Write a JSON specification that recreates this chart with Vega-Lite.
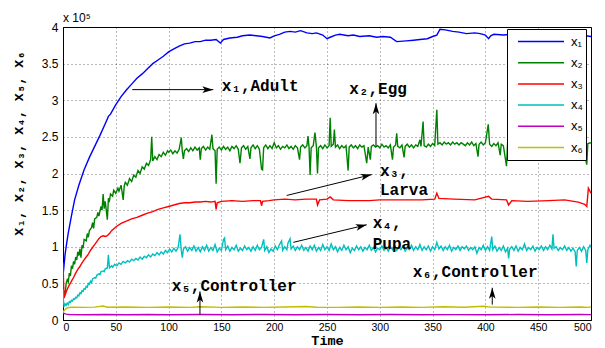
{
  "$schema": "https://vega.github.io/schema/vega-lite/v6.json",
  "width": 528,
  "height": 293,
  "autosize": {"type": "none"},
  "padding": {"left": 63, "top": 27, "right": 14, "bottom": 28},
  "background": "white",
  "title": {"text": "x 10⁵", "anchor": "start", "frame": "group", "font": "Liberation Sans", "fontSize": 12, "fontWeight": "normal", "offset": 4, "dy": 8, "color": "black"},
  "config": {
    "view": {"stroke": "black", "strokeWidth": 1},
    "axis": {"labelFont": "Liberation Sans", "labelFontSize": 12, "labelColor": "black", "domainColor": "black", "ticks": false, "labelOverlap": false, "gridColor": "#000", "gridOpacity": 0.55, "gridDash": [1, 3], "titleFont": "Liberation Mono", "titleFontWeight": "bold", "titleColor": "black"}
  },
  "datasets": {
    "series": [
      {"s":"x1","t":0,"v":0.6},{"s":"x1","t":1,"v":0.75},{"s":"x1","t":2,"v":0.9},{"s":"x1","t":3.5,"v":1.05},{"s":"x1","t":5,"v":1.19},{"s":"x1","t":8,"v":1.42},{"s":"x1","t":11,"v":1.64},{"s":"x1","t":15,"v":1.84},{"s":"x1","t":20,"v":2.05},{"s":"x1","t":25,"v":2.22},{"s":"x1","t":30,"v":2.37},{"s":"x1","t":35,"v":2.52},{"s":"x1","t":40,"v":2.68},{"s":"x1","t":43,"v":2.78},{"s":"x1","t":45,"v":2.81},{"s":"x1","t":50,"v":2.94},{"s":"x1","t":55,"v":3.05},{"s":"x1","t":60,"v":3.14},{"s":"x1","t":65,"v":3.22},{"s":"x1","t":70,"v":3.30},{"s":"x1","t":75,"v":3.36},{"s":"x1","t":80,"v":3.43},{"s":"x1","t":85,"v":3.50},{"s":"x1","t":90,"v":3.55},{"s":"x1","t":95,"v":3.60},{"s":"x1","t":100,"v":3.66},{"s":"x1","t":105,"v":3.70},{"s":"x1","t":110,"v":3.74},{"s":"x1","t":115,"v":3.77},{"s":"x1","t":120,"v":3.78},{"s":"x1","t":125,"v":3.80},{"s":"x1","t":130,"v":3.80},{"s":"x1","t":135,"v":3.82},{"s":"x1","t":140,"v":3.82},{"s":"x1","t":145,"v":3.83},{"s":"x1","t":149,"v":3.78},{"s":"x1","t":152,"v":3.83},{"s":"x1","t":158,"v":3.85},{"s":"x1","t":165,"v":3.86},{"s":"x1","t":170,"v":3.88},{"s":"x1","t":177,"v":3.89},{"s":"x1","t":183,"v":3.88},{"s":"x1","t":189,"v":3.87},{"s":"x1","t":196,"v":3.85},{"s":"x1","t":200,"v":3.88},{"s":"x1","t":205,"v":3.90},{"s":"x1","t":210,"v":3.93},{"s":"x1","t":215,"v":3.94},{"s":"x1","t":220,"v":3.93},{"s":"x1","t":225,"v":3.95},{"s":"x1","t":231,"v":3.92},{"s":"x1","t":236,"v":3.91},{"s":"x1","t":240,"v":3.92},{"s":"x1","t":246,"v":3.89},{"s":"x1","t":250,"v":3.84},{"s":"x1","t":253,"v":3.86},{"s":"x1","t":258,"v":3.89},{"s":"x1","t":262,"v":3.90},{"s":"x1","t":270,"v":3.88},{"s":"x1","t":275,"v":3.89},{"s":"x1","t":281,"v":3.87},{"s":"x1","t":290,"v":3.88},{"s":"x1","t":297,"v":3.86},{"s":"x1","t":303,"v":3.87},{"s":"x1","t":310,"v":3.86},{"s":"x1","t":316,"v":3.80},{"s":"x1","t":325,"v":3.81},{"s":"x1","t":332,"v":3.82},{"s":"x1","t":338,"v":3.83},{"s":"x1","t":345,"v":3.84},{"s":"x1","t":350,"v":3.87},{"s":"x1","t":354,"v":3.89},{"s":"x1","t":357,"v":3.97},{"s":"x1","t":362,"v":3.96},{"s":"x1","t":369,"v":3.94},{"s":"x1","t":375,"v":3.93},{"s":"x1","t":382,"v":3.91},{"s":"x1","t":390,"v":3.92},{"s":"x1","t":395,"v":3.91},{"s":"x1","t":400,"v":3.89},{"s":"x1","t":403,"v":3.84},{"s":"x1","t":405,"v":3.88},{"s":"x1","t":408,"v":3.90},{"s":"x1","t":417,"v":3.89},{"s":"x1","t":425,"v":3.90},{"s":"x1","t":440,"v":3.91},{"s":"x1","t":460,"v":3.90},{"s":"x1","t":480,"v":3.90},{"s":"x1","t":495,"v":3.88},{"s":"x1","t":500,"v":3.87},

      {"s":"x2","t":0,"v":0.28},{"s":"x2","t":1,"v":0.40},{"s":"x2","t":2,"v":0.36},{"s":"x2","t":3,"v":0.50},{"s":"x2","t":4,"v":0.55},{"s":"x2","t":5,"v":0.52},{"s":"x2","t":6,"v":0.64},{"s":"x2","t":7,"v":0.60},{"s":"x2","t":8,"v":0.74},{"s":"x2","t":9,"v":0.70},{"s":"x2","t":10,"v":0.80},{"s":"x2","t":11,"v":0.76},{"s":"x2","t":12,"v":0.86},{"s":"x2","t":13,"v":0.82},{"s":"x2","t":14,"v":0.93},{"s":"x2","t":15,"v":0.88},{"s":"x2","t":16,"v":0.97},{"s":"x2","t":17,"v":0.85},{"s":"x2","t":18,"v":1.02},{"s":"x2","t":19,"v":0.98},{"s":"x2","t":20,"v":1.10},{"s":"x2","t":22,"v":1.08},{"s":"x2","t":23,"v":1.18},{"s":"x2","t":24,"v":1.13},{"s":"x2","t":25,"v":1.22},{"s":"x2","t":27,"v":1.26},{"s":"x2","t":28,"v":1.33},{"s":"x2","t":29,"v":1.25},{"s":"x2","t":30,"v":1.38},{"s":"x2","t":32,"v":1.40},{"s":"x2","t":33,"v":1.47},{"s":"x2","t":34,"v":1.42},{"s":"x2","t":36,"v":1.55},{"s":"x2","t":37,"v":1.50},{"s":"x2","t":38,"v":1.72},{"s":"x2","t":39,"v":1.52},{"s":"x2","t":40,"v":1.62},{"s":"x2","t":42,"v":1.37},{"s":"x2","t":43,"v":1.66},{"s":"x2","t":44,"v":1.63},{"s":"x2","t":45,"v":1.72},{"s":"x2","t":47,"v":1.69},{"s":"x2","t":48,"v":1.77},{"s":"x2","t":50,"v":1.73},{"s":"x2","t":52,"v":1.80},{"s":"x2","t":53,"v":1.76},{"s":"x2","t":55,"v":1.84},{"s":"x2","t":57,"v":1.64},{"s":"x2","t":58,"v":1.83},{"s":"x2","t":59,"v":1.88},{"s":"x2","t":61,"v":1.84},{"s":"x2","t":63,"v":1.93},{"s":"x2","t":65,"v":1.89},{"s":"x2","t":67,"v":1.98},{"s":"x2","t":69,"v":1.95},{"s":"x2","t":71,"v":2.04},{"s":"x2","t":73,"v":2.00},{"s":"x2","t":75,"v":2.09},{"s":"x2","t":77,"v":2.06},{"s":"x2","t":79,"v":2.14},{"s":"x2","t":81,"v":2.11},{"s":"x2","t":83,"v":2.19},{"s":"x2","t":84,"v":2.50},{"s":"x2","t":85,"v":2.17},{"s":"x2","t":87,"v":2.23},{"s":"x2","t":89,"v":2.19},{"s":"x2","t":91,"v":2.26},{"s":"x2","t":93,"v":2.23},{"s":"x2","t":95,"v":2.29},{"s":"x2","t":97,"v":2.25},{"s":"x2","t":99,"v":2.31},
      {"s":"x2","t":100,"v":2.29},{"s":"x2","t":102,"v":2.32},{"s":"x2","t":104,"v":2.27},{"s":"x2","t":106,"v":2.31},{"s":"x2","t":108,"v":2.28},{"s":"x2","t":110,"v":2.33},{"s":"x2","t":112,"v":2.49},{"s":"x2","t":113,"v":2.30},{"s":"x2","t":114,"v":2.20},{"s":"x2","t":115,"v":2.31},{"s":"x2","t":117,"v":2.34},{"s":"x2","t":119,"v":2.30},{"s":"x2","t":121,"v":2.35},{"s":"x2","t":123,"v":2.31},{"s":"x2","t":125,"v":2.36},{"s":"x2","t":127,"v":2.32},{"s":"x2","t":129,"v":2.35},{"s":"x2","t":130,"v":2.19},{"s":"x2","t":131,"v":2.34},{"s":"x2","t":133,"v":2.37},{"s":"x2","t":135,"v":2.32},{"s":"x2","t":137,"v":2.36},{"s":"x2","t":139,"v":2.33},{"s":"x2","t":141,"v":2.53},{"s":"x2","t":142,"v":2.34},{"s":"x2","t":144,"v":2.31},{"s":"x2","t":145,"v":1.86},{"s":"x2","t":146,"v":2.33},{"s":"x2","t":148,"v":2.36},{"s":"x2","t":150,"v":2.32},{"s":"x2","t":152,"v":2.37},{"s":"x2","t":154,"v":2.33},{"s":"x2","t":156,"v":2.36},{"s":"x2","t":158,"v":2.31},{"s":"x2","t":160,"v":2.37},{"s":"x2","t":162,"v":2.34},{"s":"x2","t":164,"v":2.38},{"s":"x2","t":166,"v":2.33},{"s":"x2","t":167.6,"v":2.14},{"s":"x2","t":169,"v":2.35},{"s":"x2","t":171,"v":2.38},{"s":"x2","t":173,"v":2.33},{"s":"x2","t":175,"v":2.37},{"s":"x2","t":177,"v":2.20},{"s":"x2","t":178,"v":2.35},{"s":"x2","t":180,"v":2.39},{"s":"x2","t":182,"v":2.34},{"s":"x2","t":184,"v":2.38},{"s":"x2","t":186,"v":2.33},{"s":"x2","t":188,"v":2.06},{"s":"x2","t":189,"v":2.05},{"s":"x2","t":190,"v":2.35},{"s":"x2","t":192,"v":2.39},{"s":"x2","t":194,"v":2.34},{"s":"x2","t":196,"v":2.38},{"s":"x2","t":198,"v":2.34},{"s":"x2","t":200,"v":2.42},{"s":"x2","t":202,"v":2.35},{"s":"x2","t":204,"v":2.38},{"s":"x2","t":206,"v":2.33},{"s":"x2","t":208,"v":2.37},{"s":"x2","t":210,"v":2.35},{"s":"x2","t":212,"v":2.39},{"s":"x2","t":214,"v":2.34},{"s":"x2","t":216,"v":2.37},{"s":"x2","t":218,"v":2.33},{"s":"x2","t":220,"v":2.38},{"s":"x2","t":222,"v":2.35},{"s":"x2","t":224,"v":2.19},{"s":"x2","t":225,"v":2.36},{"s":"x2","t":227,"v":2.39},{"s":"x2","t":229,"v":2.35},{"s":"x2","t":231,"v":2.38},{"s":"x2","t":232,"v":2.51},{"s":"x2","t":233,"v":2.36},{"s":"x2","t":234,"v":1.98},{"s":"x2","t":235,"v":2.35},{"s":"x2","t":237,"v":2.38},{"s":"x2","t":238.6,"v":2.56},{"s":"x2","t":240,"v":2.36},{"s":"x2","t":241,"v":2.00},{"s":"x2","t":242,"v":2.35},{"s":"x2","t":244,"v":2.38},{"s":"x2","t":246,"v":2.34},{"s":"x2","t":248,"v":2.39},{"s":"x2","t":250,"v":2.35},{"s":"x2","t":252,"v":2.38},{"s":"x2","t":253,"v":2.76},{"s":"x2","t":254,"v":2.37},{"s":"x2","t":256,"v":2.40},{"s":"x2","t":257,"v":2.60},{"s":"x2","t":258,"v":2.36},{"s":"x2","t":260,"v":2.39},{"s":"x2","t":262,"v":2.34},{"s":"x2","t":264,"v":2.38},{"s":"x2","t":266,"v":2.35},{"s":"x2","t":268,"v":2.38},{"s":"x2","t":270,"v":2.04},{"s":"x2","t":271,"v":2.36},{"s":"x2","t":273,"v":2.39},{"s":"x2","t":275,"v":2.35},{"s":"x2","t":277,"v":2.38},{"s":"x2","t":279,"v":2.34},{"s":"x2","t":281,"v":2.39},{"s":"x2","t":283,"v":2.36},{"s":"x2","t":285,"v":2.38},{"s":"x2","t":287.6,"v":2.14},{"s":"x2","t":289,"v":2.36},{"s":"x2","t":291,"v":2.19},{"s":"x2","t":292,"v":2.37},{"s":"x2","t":294,"v":2.39},{"s":"x2","t":296,"v":2.36},{"s":"x2","t":298,"v":2.38},{"s":"x2","t":300,"v":2.35},{"s":"x2","t":302,"v":2.40},{"s":"x2","t":304,"v":2.36},{"s":"x2","t":306,"v":2.38},{"s":"x2","t":308,"v":2.35},{"s":"x2","t":310,"v":2.39},{"s":"x2","t":312,"v":2.19},{"s":"x2","t":313,"v":2.36},{"s":"x2","t":315,"v":2.39},{"s":"x2","t":316,"v":2.55},{"s":"x2","t":317,"v":2.37},{"s":"x2","t":319,"v":2.35},{"s":"x2","t":321,"v":2.39},{"s":"x2","t":323,"v":2.22},{"s":"x2","t":324,"v":2.37},{"s":"x2","t":326,"v":2.40},{"s":"x2","t":328,"v":2.36},{"s":"x2","t":330,"v":2.39},{"s":"x2","t":332,"v":2.35},{"s":"x2","t":334,"v":2.39},{"s":"x2","t":336,"v":2.37},{"s":"x2","t":338,"v":2.46},{"s":"x2","t":339,"v":2.37},{"s":"x2","t":341,"v":2.71},{"s":"x2","t":342,"v":2.38},{"s":"x2","t":344,"v":2.36},{"s":"x2","t":346,"v":2.40},{"s":"x2","t":348,"v":2.37},{"s":"x2","t":350,"v":2.41},{"s":"x2","t":352,"v":2.38},{"s":"x2","t":354,"v":2.87},{"s":"x2","t":355,"v":2.40},{"s":"x2","t":357,"v":2.42},{"s":"x2","t":359,"v":2.39},{"s":"x2","t":361,"v":2.43},{"s":"x2","t":363,"v":2.40},{"s":"x2","t":365,"v":2.42},{"s":"x2","t":367,"v":2.39},{"s":"x2","t":369,"v":2.43},{"s":"x2","t":371,"v":2.40},{"s":"x2","t":373,"v":2.42},{"s":"x2","t":375,"v":2.39},{"s":"x2","t":377,"v":2.42},{"s":"x2","t":379,"v":2.40},{"s":"x2","t":381,"v":2.38},{"s":"x2","t":383,"v":2.42},{"s":"x2","t":385,"v":2.39},{"s":"x2","t":387,"v":2.43},{"s":"x2","t":389,"v":2.38},{"s":"x2","t":391,"v":2.41},{"s":"x2","t":393,"v":2.23},{"s":"x2","t":394,"v":2.40},{"s":"x2","t":396,"v":2.43},{"s":"x2","t":398,"v":2.39},{"s":"x2","t":400,"v":2.42},{"s":"x2","t":402.7,"v":2.67},{"s":"x2","t":404,"v":2.40},{"s":"x2","t":406,"v":2.37},{"s":"x2","t":408,"v":2.41},{"s":"x2","t":410,"v":2.38},{"s":"x2","t":412,"v":2.42},{"s":"x2","t":414,"v":2.25},{"s":"x2","t":415,"v":2.40},{"s":"x2","t":417,"v":2.38},{"s":"x2","t":420,"v":2.10},{"s":"x2","t":421,"v":2.41},{"s":"x2","t":424,"v":2.38},{"s":"x2","t":428,"v":2.42},{"s":"x2","t":432,"v":2.39},{"s":"x2","t":436,"v":2.43},{"s":"x2","t":440,"v":2.40},{"s":"x2","t":444,"v":2.42},{"s":"x2","t":448,"v":2.39},{"s":"x2","t":452,"v":2.43},{"s":"x2","t":456,"v":2.40},{"s":"x2","t":460,"v":2.42},{"s":"x2","t":464,"v":2.39},{"s":"x2","t":468,"v":2.43},{"s":"x2","t":472,"v":2.40},{"s":"x2","t":476,"v":2.42},{"s":"x2","t":480,"v":2.39},{"s":"x2","t":484,"v":2.43},{"s":"x2","t":488,"v":2.40},{"s":"x2","t":492,"v":2.42},{"s":"x2","t":496,"v":2.12},{"s":"x2","t":497,"v":2.41},{"s":"x2","t":500,"v":2.42},

      {"s":"x3","t":0,"v":0.78},{"s":"x3","t":1,"v":0.30},{"s":"x3","t":2,"v":0.34},{"s":"x3","t":4,"v":0.42},{"s":"x3","t":6,"v":0.48},{"s":"x3","t":8,"v":0.53},{"s":"x3","t":10,"v":0.58},{"s":"x3","t":12,"v":0.64},{"s":"x3","t":14,"v":0.69},{"s":"x3","t":16,"v":0.73},{"s":"x3","t":18,"v":0.78},{"s":"x3","t":20,"v":0.82},{"s":"x3","t":22,"v":0.86},{"s":"x3","t":24,"v":0.90},{"s":"x3","t":26,"v":0.95},{"s":"x3","t":28,"v":0.99},{"s":"x3","t":30,"v":1.03},{"s":"x3","t":32,"v":1.07},{"s":"x3","t":34,"v":1.11},{"s":"x3","t":36,"v":1.14},{"s":"x3","t":38,"v":1.15},{"s":"x3","t":40,"v":1.14},{"s":"x3","t":42,"v":1.15},{"s":"x3","t":44,"v":1.18},{"s":"x3","t":46,"v":1.22},{"s":"x3","t":50,"v":1.27},{"s":"x3","t":55,"v":1.32},{"s":"x3","t":60,"v":1.35},{"s":"x3","t":65,"v":1.38},{"s":"x3","t":70,"v":1.40},{"s":"x3","t":75,"v":1.43},{"s":"x3","t":80,"v":1.46},{"s":"x3","t":85,"v":1.48},{"s":"x3","t":90,"v":1.51},{"s":"x3","t":95,"v":1.53},{"s":"x3","t":100,"v":1.55},{"s":"x3","t":105,"v":1.57},{"s":"x3","t":110,"v":1.59},{"s":"x3","t":115,"v":1.60},{"s":"x3","t":120,"v":1.60},{"s":"x3","t":125,"v":1.61},{"s":"x3","t":130,"v":1.61},{"s":"x3","t":135,"v":1.62},{"s":"x3","t":140,"v":1.61},{"s":"x3","t":144,"v":1.62},{"s":"x3","t":145,"v":1.51},{"s":"x3","t":146,"v":1.60},{"s":"x3","t":150,"v":1.62},{"s":"x3","t":160,"v":1.63},{"s":"x3","t":170,"v":1.62},{"s":"x3","t":180,"v":1.63},{"s":"x3","t":187,"v":1.63},{"s":"x3","t":188,"v":1.56},{"s":"x3","t":189,"v":1.62},{"s":"x3","t":195,"v":1.63},{"s":"x3","t":200,"v":1.64},{"s":"x3","t":210,"v":1.65},{"s":"x3","t":220,"v":1.64},{"s":"x3","t":230,"v":1.65},{"s":"x3","t":240,"v":1.65},{"s":"x3","t":241,"v":1.57},{"s":"x3","t":243,"v":1.64},{"s":"x3","t":250,"v":1.65},{"s":"x3","t":253,"v":1.68},{"s":"x3","t":256,"v":1.64},{"s":"x3","t":270,"v":1.63},{"s":"x3","t":280,"v":1.63},{"s":"x3","t":290,"v":1.63},{"s":"x3","t":300,"v":1.64},{"s":"x3","t":320,"v":1.64},{"s":"x3","t":340,"v":1.64},{"s":"x3","t":352,"v":1.65},{"s":"x3","t":354,"v":1.73},{"s":"x3","t":356,"v":1.66},{"s":"x3","t":370,"v":1.65},{"s":"x3","t":390,"v":1.64},{"s":"x3","t":403,"v":1.69},{"s":"x3","t":406,"v":1.65},{"s":"x3","t":420,"v":1.64},{"s":"x3","t":422,"v":1.57},{"s":"x3","t":425,"v":1.63},{"s":"x3","t":440,"v":1.62},{"s":"x3","t":460,"v":1.63},{"s":"x3","t":475,"v":1.64},{"s":"x3","t":488,"v":1.61},{"s":"x3","t":494,"v":1.58},{"s":"x3","t":496,"v":1.55},{"s":"x3","t":497.5,"v":1.80},{"s":"x3","t":500,"v":1.73},

      {"s":"x4","t":0,"v":0.42},{"s":"x4","t":0.5,"v":0.25},{"s":"x4","t":1,"v":0.19},{"s":"x4","t":2,"v":0.22},{"s":"x4","t":3,"v":0.20},{"s":"x4","t":4,"v":0.23},{"s":"x4","t":5,"v":0.21},{"s":"x4","t":6,"v":0.25},{"s":"x4","t":7,"v":0.24},{"s":"x4","t":8,"v":0.27},{"s":"x4","t":9,"v":0.26},{"s":"x4","t":10,"v":0.29},{"s":"x4","t":11,"v":0.28},{"s":"x4","t":12,"v":0.31},{"s":"x4","t":13,"v":0.30},{"s":"x4","t":14,"v":0.34},{"s":"x4","t":15,"v":0.33},{"s":"x4","t":16,"v":0.37},{"s":"x4","t":17,"v":0.36},{"s":"x4","t":18,"v":0.40},{"s":"x4","t":19,"v":0.39},{"s":"x4","t":20,"v":0.43},{"s":"x4","t":21,"v":0.42},{"s":"x4","t":22,"v":0.46},{"s":"x4","t":23,"v":0.45},{"s":"x4","t":24,"v":0.50},{"s":"x4","t":25,"v":0.49},{"s":"x4","t":26,"v":0.53},{"s":"x4","t":27,"v":0.51},{"s":"x4","t":28,"v":0.56},{"s":"x4","t":30,"v":0.58},{"s":"x4","t":31,"v":0.57},{"s":"x4","t":32,"v":0.61},{"s":"x4","t":34,"v":0.63},{"s":"x4","t":35,"v":0.62},{"s":"x4","t":36,"v":0.66},{"s":"x4","t":38,"v":0.67},{"s":"x4","t":39,"v":0.66},{"s":"x4","t":40,"v":0.70},{"s":"x4","t":42,"v":0.71},{"s":"x4","t":43,"v":0.89},{"s":"x4","t":44,"v":0.71},{"s":"x4","t":46,"v":0.74},{"s":"x4","t":47,"v":0.72},{"s":"x4","t":49,"v":0.76},{"s":"x4","t":51,"v":0.74},{"s":"x4","t":53,"v":0.78},{"s":"x4","t":55,"v":0.76},{"s":"x4","t":57,"v":0.80},{"s":"x4","t":59,"v":0.78},{"s":"x4","t":61,"v":0.81},{"s":"x4","t":63,"v":0.79},{"s":"x4","t":65,"v":0.83},{"s":"x4","t":67,"v":0.81},{"s":"x4","t":69,"v":0.84},{"s":"x4","t":71,"v":0.82},{"s":"x4","t":73,"v":0.86},{"s":"x4","t":75,"v":0.83},{"s":"x4","t":77,"v":0.87},{"s":"x4","t":79,"v":0.85},{"s":"x4","t":81,"v":0.89},{"s":"x4","t":83,"v":0.86},{"s":"x4","t":85,"v":0.90},{"s":"x4","t":87,"v":0.88},{"s":"x4","t":89,"v":0.92},{"s":"x4","t":91,"v":0.89},{"s":"x4","t":93,"v":0.93},{"s":"x4","t":95,"v":0.90},{"s":"x4","t":97,"v":0.95},{"s":"x4","t":99,"v":0.92},{"s":"x4","t":101,"v":0.97},{"s":"x4","t":103,"v":0.93},{"s":"x4","t":105,"v":0.98},{"s":"x4","t":107,"v":0.94},{"s":"x4","t":109,"v":0.99},{"s":"x4","t":110.8,"v":1.17},{"s":"x4","t":112,"v":0.95},{"s":"x4","t":113,"v":0.85},{"s":"x4","t":114,"v":0.97},{"s":"x4","t":116,"v":1.00},{"s":"x4","t":118,"v":0.94},{"s":"x4","t":120,"v":0.99},{"s":"x4","t":122,"v":0.95},{"s":"x4","t":124,"v":1.01},{"s":"x4","t":126,"v":0.94},{"s":"x4","t":128,"v":0.99},{"s":"x4","t":130,"v":0.93},{"s":"x4","t":132,"v":1.00},{"s":"x4","t":134,"v":0.95},{"s":"x4","t":136,"v":1.02},{"s":"x4","t":138,"v":0.94},{"s":"x4","t":140,"v":0.99},{"s":"x4","t":142,"v":0.95},{"s":"x4","t":144,"v":1.03},{"s":"x4","t":146,"v":0.93},{"s":"x4","t":148,"v":0.98},{"s":"x4","t":150,"v":0.95},{"s":"x4","t":152,"v":1.10},{"s":"x4","t":153,"v":1.12},{"s":"x4","t":154,"v":0.96},{"s":"x4","t":156,"v":1.01},{"s":"x4","t":158,"v":0.94},{"s":"x4","t":160,"v":0.99},{"s":"x4","t":162,"v":0.96},{"s":"x4","t":164,"v":1.02},{"s":"x4","t":166,"v":0.94},{"s":"x4","t":168,"v":0.98},{"s":"x4","t":170,"v":0.95},{"s":"x4","t":172,"v":1.01},{"s":"x4","t":174,"v":0.96},{"s":"x4","t":176,"v":0.99},{"s":"x4","t":178,"v":0.94},{"s":"x4","t":180,"v":1.00},{"s":"x4","t":182,"v":0.95},{"s":"x4","t":184,"v":1.02},{"s":"x4","t":186,"v":0.96},{"s":"x4","t":188,"v":0.99},{"s":"x4","t":190,"v":1.10},{"s":"x4","t":191,"v":0.95},{"s":"x4","t":193,"v":1.00},{"s":"x4","t":195,"v":0.92},{"s":"x4","t":197,"v":0.97},{"s":"x4","t":199,"v":0.94},{"s":"x4","t":201,"v":1.01},{"s":"x4","t":203,"v":0.96},{"s":"x4","t":205,"v":1.03},{"s":"x4","t":207,"v":1.08},{"s":"x4","t":208,"v":0.95},{"s":"x4","t":210,"v":1.00},{"s":"x4","t":212,"v":0.96},{"s":"x4","t":213,"v":1.05},{"s":"x4","t":215,"v":1.11},{"s":"x4","t":216,"v":0.97},{"s":"x4","t":218,"v":1.01},{"s":"x4","t":220,"v":0.95},{"s":"x4","t":222,"v":1.00},{"s":"x4","t":224,"v":0.96},{"s":"x4","t":226,"v":1.02},{"s":"x4","t":228,"v":0.95},{"s":"x4","t":230,"v":0.99},{"s":"x4","t":232,"v":0.94},{"s":"x4","t":234,"v":1.01},{"s":"x4","t":236,"v":0.96},{"s":"x4","t":238,"v":1.02},{"s":"x4","t":240,"v":0.94},{"s":"x4","t":242,"v":0.99},{"s":"x4","t":244,"v":0.95},{"s":"x4","t":246,"v":1.03},{"s":"x4","t":248,"v":0.96},{"s":"x4","t":250,"v":1.00},{"s":"x4","t":252,"v":0.95},{"s":"x4","t":254,"v":1.04},{"s":"x4","t":256,"v":0.96},{"s":"x4","t":258,"v":1.00},{"s":"x4","t":260,"v":0.93},{"s":"x4","t":262,"v":0.99},{"s":"x4","t":264,"v":0.95},{"s":"x4","t":266,"v":1.02},{"s":"x4","t":268,"v":0.96},{"s":"x4","t":270,"v":1.00},{"s":"x4","t":272,"v":0.92},{"s":"x4","t":274,"v":0.98},{"s":"x4","t":276,"v":0.95},{"s":"x4","t":278,"v":1.01},{"s":"x4","t":280,"v":0.96},{"s":"x4","t":282,"v":1.00},{"s":"x4","t":284,"v":0.94},{"s":"x4","t":286,"v":0.99},{"s":"x4","t":288,"v":0.96},{"s":"x4","t":290,"v":1.02},{"s":"x4","t":292,"v":0.95},{"s":"x4","t":294,"v":0.99},{"s":"x4","t":296,"v":0.93},{"s":"x4","t":298,"v":0.98},{"s":"x4","t":300,"v":0.96},{"s":"x4","t":302,"v":1.01},{"s":"x4","t":304,"v":0.95},{"s":"x4","t":306,"v":0.99},{"s":"x4","t":308,"v":0.94},{"s":"x4","t":310,"v":1.00},{"s":"x4","t":312,"v":0.96},{"s":"x4","t":314,"v":1.02},{"s":"x4","t":316,"v":0.95},{"s":"x4","t":318,"v":0.99},{"s":"x4","t":320,"v":0.96},{"s":"x4","t":322,"v":1.01},{"s":"x4","t":324,"v":0.94},{"s":"x4","t":326,"v":0.98},{"s":"x4","t":328,"v":0.96},{"s":"x4","t":330,"v":1.02},{"s":"x4","t":332,"v":0.95},{"s":"x4","t":334,"v":1.00},{"s":"x4","t":336,"v":0.96},{"s":"x4","t":338,"v":1.03},{"s":"x4","t":340,"v":0.95},{"s":"x4","t":342,"v":1.00},{"s":"x4","t":344,"v":0.96},{"s":"x4","t":346,"v":1.01},{"s":"x4","t":348,"v":0.94},{"s":"x4","t":350,"v":1.00},{"s":"x4","t":352,"v":0.96},{"s":"x4","t":354,"v":1.06},{"s":"x4","t":356,"v":0.97},{"s":"x4","t":358,"v":1.01},{"s":"x4","t":360,"v":0.95},{"s":"x4","t":362,"v":1.00},{"s":"x4","t":364,"v":0.96},{"s":"x4","t":366,"v":1.02},{"s":"x4","t":368,"v":0.94},{"s":"x4","t":370,"v":0.99},{"s":"x4","t":372,"v":0.96},{"s":"x4","t":374,"v":1.01},{"s":"x4","t":376,"v":0.95},{"s":"x4","t":378,"v":1.00},{"s":"x4","t":380,"v":0.97},{"s":"x4","t":382,"v":1.01},{"s":"x4","t":384,"v":0.95},{"s":"x4","t":386,"v":0.99},{"s":"x4","t":388,"v":0.96},{"s":"x4","t":390,"v":1.00},{"s":"x4","t":392,"v":0.91},{"s":"x4","t":394,"v":0.99},{"s":"x4","t":396,"v":0.96},{"s":"x4","t":398,"v":1.02},{"s":"x4","t":400,"v":0.95},{"s":"x4","t":402,"v":1.00},{"s":"x4","t":404,"v":0.95},{"s":"x4","t":406,"v":1.14},{"s":"x4","t":407,"v":0.96},{"s":"x4","t":409,"v":1.01},{"s":"x4","t":411,"v":0.94},{"s":"x4","t":413,"v":0.99},{"s":"x4","t":415,"v":0.95},{"s":"x4","t":417,"v":1.01},{"s":"x4","t":419,"v":0.93},{"s":"x4","t":421,"v":0.98},{"s":"x4","t":422,"v":0.84},{"s":"x4","t":423,"v":0.97},{"s":"x4","t":425,"v":1.00},{"s":"x4","t":427,"v":0.95},{"s":"x4","t":429,"v":1.01},{"s":"x4","t":431,"v":0.94},{"s":"x4","t":433,"v":0.99},{"s":"x4","t":435,"v":0.96},{"s":"x4","t":437,"v":1.04},{"s":"x4","t":439,"v":0.95},{"s":"x4","t":441,"v":0.99},{"s":"x4","t":443,"v":0.96},{"s":"x4","t":445,"v":1.01},{"s":"x4","t":447,"v":0.94},{"s":"x4","t":449,"v":0.99},{"s":"x4","t":451,"v":0.96},{"s":"x4","t":453,"v":1.01},{"s":"x4","t":455,"v":0.95},{"s":"x4","t":457,"v":1.00},{"s":"x4","t":459,"v":0.96},{"s":"x4","t":461,"v":1.02},{"s":"x4","t":463,"v":0.97},{"s":"x4","t":464,"v":1.17},{"s":"x4","t":465,"v":0.98},{"s":"x4","t":467,"v":1.00},{"s":"x4","t":469,"v":0.95},{"s":"x4","t":471,"v":0.99},{"s":"x4","t":473,"v":0.96},{"s":"x4","t":475,"v":1.01},{"s":"x4","t":477,"v":0.95},{"s":"x4","t":479,"v":0.99},{"s":"x4","t":481,"v":0.94},{"s":"x4","t":483,"v":0.98},{"s":"x4","t":485,"v":0.93},{"s":"x4","t":486,"v":0.73},{"s":"x4","t":487,"v":0.95},{"s":"x4","t":489,"v":0.99},{"s":"x4","t":491,"v":0.94},{"s":"x4","t":493,"v":1.00},{"s":"x4","t":495,"v":0.95},{"s":"x4","t":496,"v":0.78},{"s":"x4","t":497,"v":0.96},{"s":"x4","t":499,"v":1.02},{"s":"x4","t":500,"v":0.99},

      {"s":"x5","t":0,"v":0.10},{"s":"x5","t":1,"v":0.09},{"s":"x5","t":3,"v":0.08},{"s":"x5","t":6,"v":0.075},{"s":"x5","t":20,"v":0.072},{"s":"x5","t":40,"v":0.076},{"s":"x5","t":60,"v":0.072},{"s":"x5","t":80,"v":0.075},{"s":"x5","t":100,"v":0.071},{"s":"x5","t":130,"v":0.076},{"s":"x5","t":160,"v":0.072},{"s":"x5","t":190,"v":0.075},{"s":"x5","t":220,"v":0.071},{"s":"x5","t":250,"v":0.075},{"s":"x5","t":280,"v":0.072},{"s":"x5","t":310,"v":0.076},{"s":"x5","t":340,"v":0.072},{"s":"x5","t":370,"v":0.074},{"s":"x5","t":400,"v":0.071},{"s":"x5","t":430,"v":0.075},{"s":"x5","t":460,"v":0.072},{"s":"x5","t":490,"v":0.075},{"s":"x5","t":500,"v":0.073},

      {"s":"x6","t":0,"v":0.10},{"s":"x6","t":1,"v":0.13},{"s":"x6","t":3,"v":0.155},{"s":"x6","t":5,"v":0.17},{"s":"x6","t":10,"v":0.175},{"s":"x6","t":20,"v":0.172},{"s":"x6","t":30,"v":0.176},{"s":"x6","t":38,"v":0.19},{"s":"x6","t":42,"v":0.175},{"s":"x6","t":60,"v":0.178},{"s":"x6","t":80,"v":0.172},{"s":"x6","t":100,"v":0.177},{"s":"x6","t":120,"v":0.173},{"s":"x6","t":130,"v":0.18},{"s":"x6","t":150,"v":0.172},{"s":"x6","t":170,"v":0.177},{"s":"x6","t":190,"v":0.173},{"s":"x6","t":210,"v":0.178},{"s":"x6","t":230,"v":0.185},{"s":"x6","t":240,"v":0.174},{"s":"x6","t":260,"v":0.172},{"s":"x6","t":280,"v":0.178},{"s":"x6","t":300,"v":0.173},{"s":"x6","t":320,"v":0.177},{"s":"x6","t":340,"v":0.172},{"s":"x6","t":360,"v":0.18},{"s":"x6","t":380,"v":0.174},{"s":"x6","t":398,"v":0.188},{"s":"x6","t":405,"v":0.176},{"s":"x6","t":430,"v":0.172},{"s":"x6","t":450,"v":0.177},{"s":"x6","t":470,"v":0.173},{"s":"x6","t":490,"v":0.178},{"s":"x6","t":497,"v":0.172},{"s":"x6","t":500,"v":0.18}
    ],
    "arrows": [
      {"t":65.6,"v":3.145,"t2":142.3,"v2":3.145},
      {"t":296.4,"v":2.37,"t2":296.4,"v2":2.96},
      {"t":211.8,"v":1.70,"t2":292.3,"v2":1.985},
      {"t":218.1,"v":1.06,"t2":287.6,"v2":1.30},
      {"t":129.7,"v":0.075,"t2":129.7,"v2":0.39},
      {"t":406.5,"v":0.21,"t2":406.5,"v2":0.44}
    ],
    "headsRight": [{"t":142.3,"v":3.145}],
    "headsUp": [{"t":296.4,"v":2.96},{"t":129.7,"v":0.39},{"t":406.5,"v":0.44}],
    "headsDiag": [{"t":292.3,"v":1.985},{"t":287.6,"v":1.30}],
    "labels": [
      {"t":150.3,"v":3.19,"label":"x₁,Adult"},
      {"t":271.1,"v":3.16,"label":"x₂,Egg"},
      {"t":300.2,"v":2.04,"label":"x₃,"},
      {"t":300.2,"v":1.77,"label":"Larva"},
      {"t":293.3,"v":1.32,"label":"x₄,"},
      {"t":293.3,"v":1.04,"label":"Pupa"},
      {"t":102.9,"v":0.47,"label":"x₅,Controller"},
      {"t":331.2,"v":0.66,"label":"x₆,Controller"}
    ]
  },
  "encoding": {
    "x": {"field": "t", "type": "quantitative", "scale": {"domain": [0, 500], "nice": false},
          "axis": {"values": [0,50,100,150,200,250,300,350,400,450,500], "title": "Time", "titleFontSize": 13.5, "titleY": 24.5, "titleBaseline": "alphabetic", "labelPadding": 2, "labelFontSize": 10.5, "grid": true}},
    "y": {"field": "v", "type": "quantitative", "scale": {"domain": [0, 4], "nice": false},
          "axis": {"values": [0,0.5,1,1.5,2,2.5,3,3.5,4], "format": "~g", "title": "x₁, x₂, x₃, x₄, x₅, x₆", "titleFontSize": 14, "titleX": -45, "titleY": 116, "titleAngle": -90, "titleBaseline": "middle", "titleAlign": "center", "labelPadding": 5, "grid": true}}
  },
  "layer": [
    {
      "data": {"name": "series"},
      "mark": {"type": "line", "strokeWidth": 1.4, "clip": true},
      "encoding": {
        "color": {"field": "s", "type": "nominal",
                  "scale": {"domain": ["x1","x2","x3","x4","x5","x6"], "range": ["#0000ff","#008000","#ff0000","#00bfbf","#bf00bf","#bfbf00"]},
                  "legend": {"orient": "none", "legendX": 444, "legendY": 2, "title": null, "symbolType": "stroke", "symbolSize": 2116, "symbolStrokeWidth": 1.5, "clipHeight": 19, "rowPadding": 2.2, "padding": 3, "symbolOffset": 7, "labelFont": "Liberation Sans", "labelFontSize": 13, "labelColor": "black", "labelOffset": 6, "strokeColor": "black", "fillColor": "white",
                             "labelExpr": "'x' + ['₁','₂','₃','₄','₅','₆'][toNumber(substring(datum.label,1)) - 1] + '  '"}}
      }
    },
    {
      "data": {"name": "arrows"},
      "mark": {"type": "rule", "color": "black", "strokeWidth": 1},
      "encoding": {
        "x2": {"field": "t2"},
        "y2": {"field": "v2"}
      }
    },
    {
      "data": {"name": "headsRight"},
      "mark": {"type": "point", "shape": "M0,0L-2,-0.6L-1.5,0L-2,0.6Z", "size": 121, "filled": true, "color": "black", "opacity": 1, "strokeWidth": 0}
    },
    {
      "data": {"name": "headsDiag"},
      "mark": {"type": "point", "shape": "M0,0L-2,-0.6L-1.5,0L-2,0.6Z", "size": 121, "filled": true, "color": "black", "opacity": 1, "strokeWidth": 0, "angle": -14}
    },
    {
      "data": {"name": "headsUp"},
      "mark": {"type": "point", "shape": "M0,0L-0.6,2L0,1.5L0.6,2Z", "size": 121, "filled": true, "color": "black", "opacity": 1, "strokeWidth": 0}
    },
    {
      "data": {"name": "labels"},
      "mark": {"type": "text", "align": "left", "baseline": "middle", "font": "Liberation Mono", "fontWeight": "bold", "fontSize": 16, "color": "black"},
      "encoding": {
        "text": {"field": "label"}
      }
    }
  ]
}
